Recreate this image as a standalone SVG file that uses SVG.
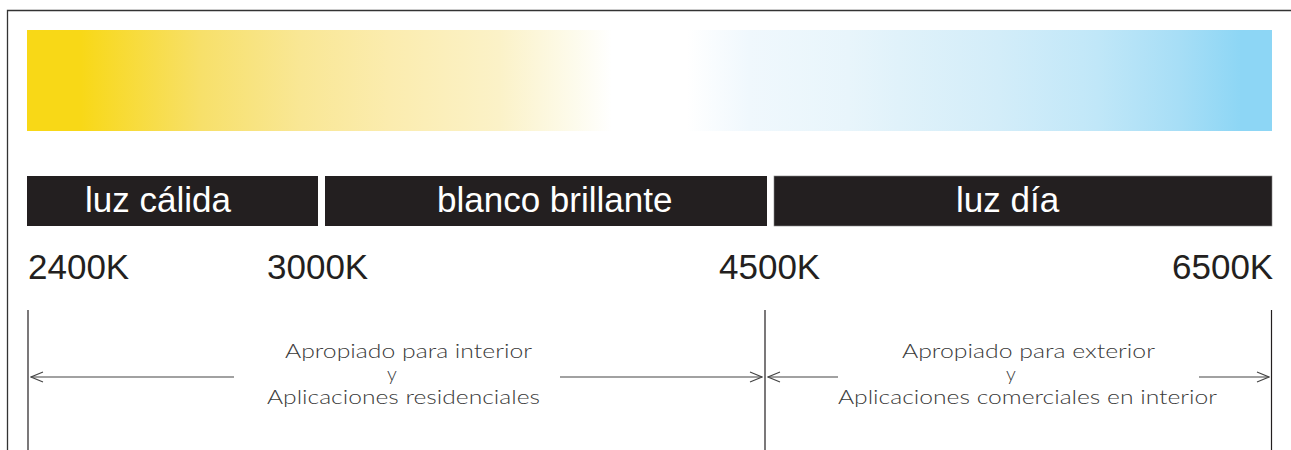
<svg xmlns="http://www.w3.org/2000/svg" width="1291" height="450" viewBox="0 0 1291 450">
<defs>
<linearGradient id="spec" x1="27" y1="0" x2="1272" y2="0" gradientUnits="userSpaceOnUse">
<stop offset="0" stop-color="#F8D817"/>
<stop offset="0.043" stop-color="#F8D817"/>
<stop offset="0.14" stop-color="#F7E06A"/>
<stop offset="0.22" stop-color="#F9E795"/>
<stop offset="0.29" stop-color="#FBECAE"/>
<stop offset="0.38" stop-color="#FBF2C8"/>
<stop offset="0.44" stop-color="#FDFBEC"/>
<stop offset="0.47" stop-color="#FFFFFF"/>
<stop offset="0.53" stop-color="#FFFFFF"/>
<stop offset="0.58" stop-color="#F0F8FD"/>
<stop offset="0.66" stop-color="#E8F5FB"/>
<stop offset="0.70" stop-color="#E0F2FA"/>
<stop offset="0.78" stop-color="#D3EDF9"/>
<stop offset="0.86" stop-color="#C0E7F8"/>
<stop offset="0.925" stop-color="#A7DEF6"/>
<stop offset="0.975" stop-color="#8DD6F5"/>
<stop offset="1" stop-color="#8DD6F5"/>
</linearGradient>
<marker id="arr" viewBox="0 0 14 12" refX="13" refY="6" markerWidth="14" markerHeight="12" markerUnits="userSpaceOnUse" orient="auto-start-reverse">
<path d="M1,1 L13,6 L1,11" fill="none" stroke="#444" stroke-width="1.1"/>
</marker>
<style>
.frame{fill:none;stroke:#333;stroke-width:1.3}
.bar{fill:#231F20}
.lbl{font-family:"Liberation Sans",Arial,sans-serif;font-size:35px;fill:#FFFFFF}
.k{font-family:"Liberation Sans",Arial,sans-serif;font-size:35px;fill:#231F20}
.vl{stroke:#231F20;stroke-width:1.2}
.ar{stroke:#444;stroke-width:1.2;fill:none}
.desc{font-family:Lato,"Open Sans","Liberation Sans",sans-serif;font-weight:300;font-size:19.5px;fill:#3A3A3A;text-anchor:middle}
</style>
</defs>
<path class="frame" d="M7.5,450 V10.5 H1291"/>
<g id="spectrum"><rect x="27" y="30" width="1245" height="101" fill="url(#spec)"/></g>
<g id="calida">
<rect class="bar" x="27" y="176" width="291" height="50"/>
<text class="lbl" x="85" y="212">luz cálida</text>
</g>
<g id="brillante">
<rect class="bar" x="325" y="176" width="442" height="50"/>
<text class="lbl" x="437" y="212">blanco brillante</text>
</g>
<g id="dia">
<rect class="bar" x="774" y="176" width="498" height="50" stroke="#888" stroke-width="0.6"/>
<text class="lbl" x="956" y="212">luz día</text>
</g>
<g id="temps">
<text class="k" x="28" y="279">2400K</text>
<text class="k" x="267" y="279">3000K</text>
<text class="k" x="719" y="279">4500K</text>
<text class="k" x="1172" y="279">6500K</text>
</g>
<g id="connectors">
<line class="vl" x1="28" y1="310" x2="28" y2="450"/>
<line class="vl" x1="765" y1="310" x2="765" y2="450"/>
<line class="vl" x1="1271.5" y1="310" x2="1271.5" y2="450"/>
<line class="ar" x1="234" y1="377" x2="31" y2="377" marker-end="url(#arr)"/>
<line class="ar" x1="560" y1="377" x2="762" y2="377" marker-end="url(#arr)"/>
<line class="ar" x1="838" y1="377" x2="768" y2="377" marker-end="url(#arr)"/>
<line class="ar" x1="1199" y1="377" x2="1269" y2="377" marker-end="url(#arr)"/>
</g>
<g id="interior">
<text class="desc" x="408.5" y="358" textLength="247" lengthAdjust="spacingAndGlyphs">Apropiado para interior</text>
<text class="desc" x="392" y="381">y</text>
<text class="desc" x="403.5" y="404" textLength="273" lengthAdjust="spacingAndGlyphs">Aplicaciones residenciales</text>
</g>
<g id="exterior">
<text class="desc" x="1028.5" y="358" textLength="253" lengthAdjust="spacingAndGlyphs">Apropiado para exterior</text>
<text class="desc" x="1011" y="381">y</text>
<text class="desc" x="1027.5" y="404" textLength="379" lengthAdjust="spacingAndGlyphs">Aplicaciones comerciales en interior</text>
</g>
</svg>
